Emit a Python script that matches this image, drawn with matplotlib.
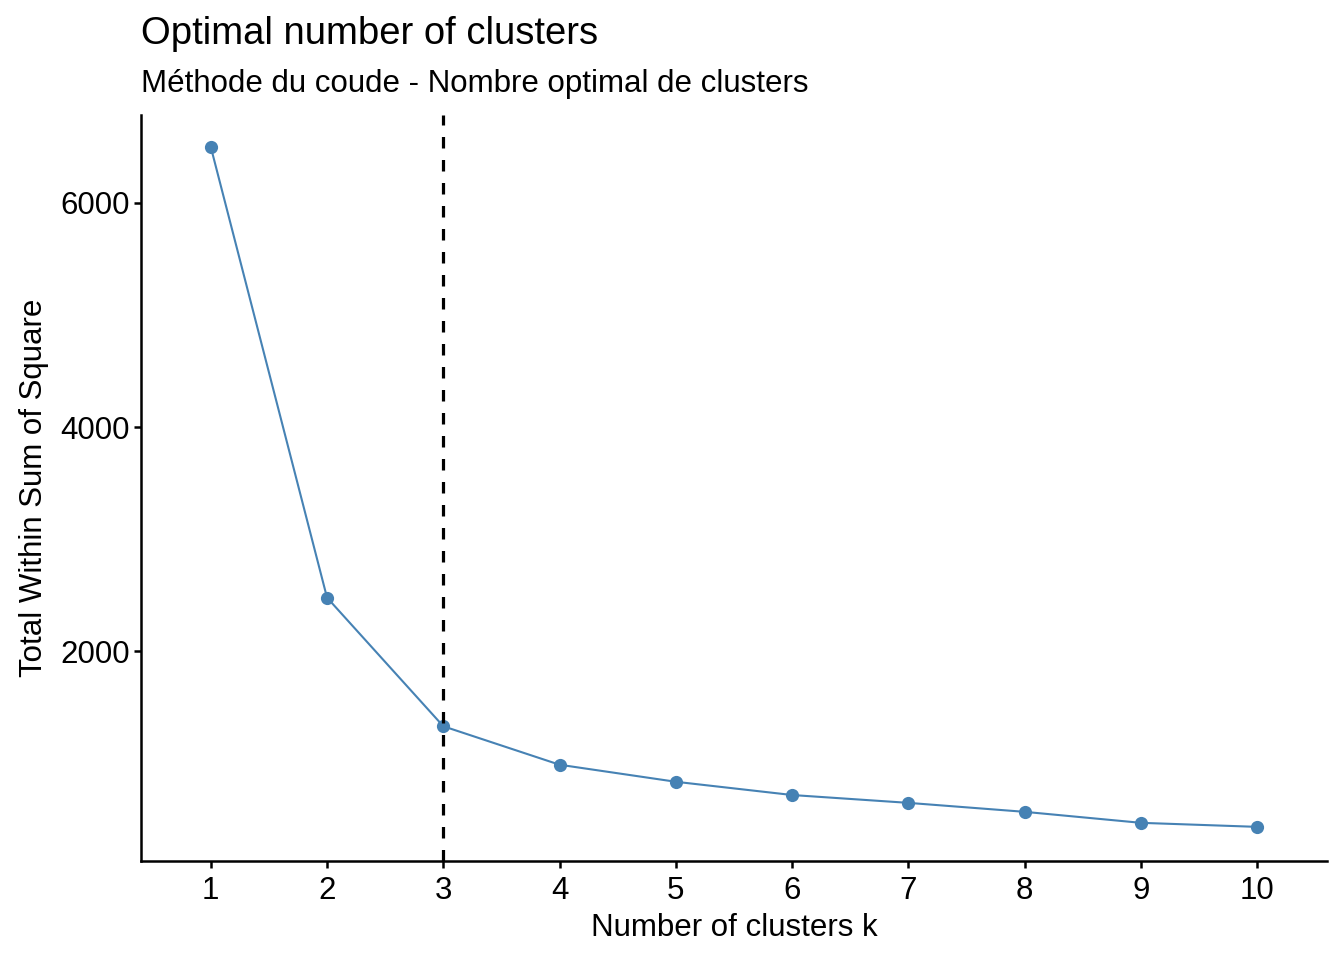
import matplotlib.pyplot as plt

# --- DATA ---
k_values = [1, 2, 3, 4, 5, 6, 7, 8, 9, 10]
wss = [6500, 2480, 1333, 990, 838, 720, 650, 570, 472, 436]
optimal_k = 3

title = "Optimal number of clusters"
subtitle = "Méthode du coude - Nombre optimal de clusters"
xlabel = "Number of clusters k"
ylabel = "Total Within Sum of Square"

# --- STYLE ---
line_color = "#4682B4"
plt.rcParams["font.family"] = ["Liberation Sans", "DejaVu Sans"]

fig = plt.figure(figsize=(13.44, 9.6), dpi=100)
ax = fig.add_axes([0.1049, 0.1034, 0.8825, 0.7766])

ax.plot(k_values, wss, color=line_color, linewidth=1.5,
        marker="o", markersize=9.5, markeredgewidth=0)
ax.axvline(optimal_k, color="black", linewidth=2.3, linestyle=(0, (3.6, 3.6)))

ax.set_xlim(0.4, 10.6)
ax.set_ylim(134, 6782)
ax.set_xticks(k_values)
ax.set_yticks([2000, 4000, 6000])

for side in ["top", "right"]:
    ax.spines[side].set_visible(False)
for side in ["left", "bottom"]:
    ax.spines[side].set_linewidth(1.8)

ax.tick_params(axis="both", width=1.8, length=5, labelsize=22.5,
               colors="black", pad=3)
ax.tick_params(axis="x", pad=6)

ax.set_xlabel(xlabel, fontsize=22.5, labelpad=5)
ax.set_ylabel(ylabel, fontsize=22.5, labelpad=8)

fig.text(0.1049, 0.965, title, fontsize=27.5, va="center", ha="left")
fig.text(0.1049, 0.913, subtitle, fontsize=22.5, va="center", ha="left")

fig.savefig("out.png", dpi=100)
